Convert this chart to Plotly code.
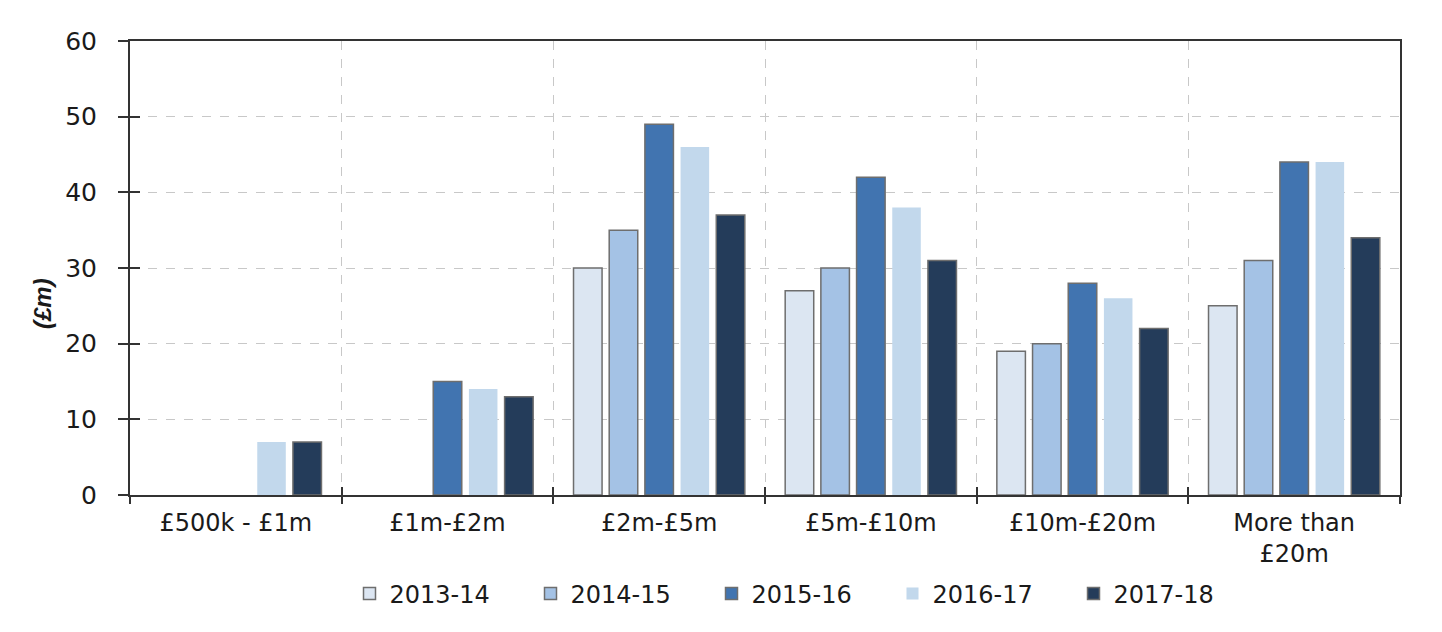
import plotly.graph_objects as go

categories = ["£500k - £1m", "£1m-£2m", "£2m-£5m", "£5m-£10m", "£10m-£20m", "More than<br>£20m"]
years = ["2013-14", "2014-15", "2015-16", "2016-17", "2017-18"]
v_2013_14 = [None, None, 30, 27, 19, 25]
v_2014_15 = [None, None, 35, 30, 20, 31]
v_2015_16 = [None, 15, 49, 42, 28, 44]
v_2016_17 = [7, 14, 46, 38, 26, 44]
v_2017_18 = [7, 13, 37, 31, 22, 34]
series = [v_2013_14, v_2014_15, v_2015_16, v_2016_17, v_2017_18]
y_ticks = [0, 10, 20, 30, 40, 50, 60]

colors = ["#DCE6F2", "#A4C2E5", "#4174B0", "#C2D8EC", "#243C5A"]
outline = ["#6E6E6E", "#6E6E6E", "#6E6E6E", "rgba(0,0,0,0)", "#6E6E6E"]
outline_w = [1.5, 1.5, 1.5, 0, 1.5]

FONT = "DejaVu Sans"
idx = list(range(len(categories)))
bounds = [i - 0.5 for i in range(len(categories) + 1)]

fig = go.Figure()
for name, vals, c, oc, ow in zip(years, series, colors, outline, outline_w):
    fig.add_trace(go.Bar(
        x=idx, y=vals, name=name,
        marker=dict(color=c, line=dict(color=oc, width=ow)),
    ))

# invisible helper traces so the overlay axes (boundary ticks / grid, cross ticks) are drawn
for xa, ya in (("x2", "y"), ("x3", "y"), ("x", "y2")):
    fig.add_trace(go.Scatter(
        x=[None], y=[None], xaxis=xa, yaxis=ya, mode="markers",
        showlegend=False, hoverinfo="skip",
    ))

OFF = 8  # page body margin
W, H = 1442, 632
# target plot area in screen pixels
X0, X1, Y0, Y1 = 130, 1400, 41, 495
L, T = X0 - OFF, Y0 - OFF
R = W - (X1 - OFF)
B = H - (Y1 - OFF)
pw, ph = X1 - X0, Y1 - Y0

grid = "#C8C8C8"
fig.update_layout(
    width=W, height=H,
    margin=dict(l=L, r=R, t=T, b=B, pad=0),
    plot_bgcolor="white", paper_bgcolor="white",
    barmode="group", bargap=0.157, bargroupgap=0.2,
    font=dict(family=FONT, size=22, color="#1a1a1a"),
    showlegend=True,
    legend=dict(
        orientation="h", xanchor="center", x=(802 - X0) / pw,
        yanchor="middle", y=-(594 - Y1) / ph,
        font=dict(family=FONT, size=24, color="#1a1a1a"),
        entrywidth=136, entrywidthmode="pixels",
        traceorder="normal", itemclick=False,
    ),
    xaxis=dict(
        range=[-0.5, len(categories) - 0.5],
        tickmode="array", tickvals=idx, ticktext=categories,
        ticks="", showgrid=False, zeroline=False,
        showline=True, linecolor="#333333", linewidth=2, mirror=True,
        tickfont=dict(family=FONT, size=24, color="#1a1a1a"),
        ticklabelstandoff=5,
    ),
    xaxis2=dict(
        overlaying="x", anchor="y", side="bottom",
        range=[-0.5, len(categories) - 0.5],
        tickmode="array", tickvals=bounds, showticklabels=False,
        ticks="outside", ticklen=8, tickwidth=2, tickcolor="#333333",
        showgrid=True, gridcolor=grid, griddash="dash", gridwidth=1,
        zeroline=False, showline=False,
    ),
    xaxis3=dict(
        overlaying="x", anchor="y", side="bottom",
        range=[-0.5, len(categories) - 0.5],
        tickmode="array", tickvals=bounds, showticklabels=False,
        ticks="inside", ticklen=8, tickwidth=2, tickcolor="#333333",
        showgrid=False, zeroline=False, showline=False,
    ),
    yaxis=dict(
        range=[0, 60], tickmode="array", tickvals=y_ticks,
        ticks="outside", ticklen=10, tickwidth=2, tickcolor="#333333",
        showgrid=True, gridcolor=grid, griddash="dash", gridwidth=1,
        zeroline=False, showline=True, linecolor="#333333", linewidth=2, mirror=True,
        tickfont=dict(family=FONT, size=25, color="#1a1a1a"),
        ticklabelstandoff=16,
    ),
    yaxis2=dict(
        overlaying="y", anchor="x", side="left",
        range=[0, 60], tickmode="array", tickvals=y_ticks,
        ticks="inside", ticklen=10, tickwidth=2, tickcolor="#333333",
        showticklabels=False, showgrid=False, zeroline=False, showline=False,
    ),
)

fig.add_annotation(
    text="<b><i>(£m)</i></b>", xref="paper", yref="paper",
    x=(42 - X0) / pw, y=(Y1 - 304) / ph,
    xanchor="center", yanchor="middle",
    textangle=-90, showarrow=False,
    font=dict(family="Liberation Sans", size=24, color="#1a1a1a"),
)

fig.write_html("out.html")
